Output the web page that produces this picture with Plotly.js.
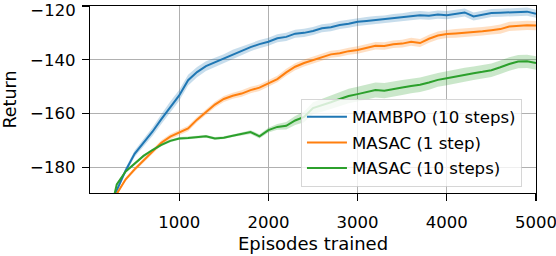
<!DOCTYPE html>
<html>
<head>
<meta charset="utf-8">
<script src="https://cdn.plot.ly/plotly-3.0.1.min.js"></script>
<style>html,body{margin:0;padding:0;background:#fff;}#chart{width:556px;height:256px;}</style>
</head>
<body>
<div id="chart"></div>
<script>
const episodes = [250,300,400,500,600,700,800,900,1000,1100,1200,1300,1400,1500,1600,1700,1800,1900,2000,2100,2200,2300,2400,2500,2600,2700,2800,2900,3000,3100,3200,3300,3400,3500,3600,3700,3800,3900,4000,4100,4200,4300,4400,4500,4600,4700,4800,4900,5000];

const mambpoMean = [-192.3,-188.6,-181.2,-175.0,-170.9,-166.8,-162.1,-157.5,-153.3,-147.6,-144.6,-142.4,-141.0,-139.6,-137.9,-136.5,-135.3,-134.2,-133.3,-132.0,-131.5,-130.3,-130.0,-129.3,-128.3,-127.9,-127.1,-126.6,-125.9,-125.6,-125.2,-125.0,-124.5,-124.2,-123.6,-123.4,-123.6,-123.2,-123.4,-122.8,-122.4,-123.9,-123.2,-122.6,-122.5,-122.4,-122.3,-122.1,-122.9];
const mambpoStd = [0.8,0.8,1.0,1.2,1.4,1.6,1.8,2.0,2.0,2.0,1.9,1.8,1.7,1.6,1.6,1.5,1.5,1.5,1.5,1.5,1.5,1.5,1.5,1.5,1.5,1.5,1.5,1.5,1.5,1.5,1.5,1.5,1.5,1.5,1.5,1.5,1.5,1.5,1.5,1.5,1.5,1.5,1.5,1.5,1.5,1.5,1.5,1.5,1.5];

const masac1Mean = [-192.6,-189.9,-184.5,-180.8,-177.5,-174.3,-170.9,-168.6,-167.2,-165.6,-162.3,-159.5,-156.7,-154.6,-153.4,-152.6,-151.3,-150.4,-148.8,-147.2,-144.7,-142.6,-141.2,-140.2,-139.1,-138.0,-137.6,-136.8,-136.4,-135.6,-134.8,-134.9,-134.2,-134.0,-133.3,-133.8,-132.2,-131.0,-130.4,-130.2,-130.0,-129.8,-129.4,-129.0,-128.6,-127.6,-127.4,-127.2,-127.3];
const masac1Std = [0.6,0.6,0.7,0.8,0.8,0.9,0.9,1.0,1.0,1.0,1.0,1.1,1.1,1.1,1.1,1.2,1.2,1.2,1.2,1.2,1.3,1.3,1.3,1.3,1.3,1.3,1.3,1.3,1.4,1.4,1.4,1.4,1.4,1.4,1.5,1.5,1.5,1.5,1.5,1.6,1.6,1.6,1.6,1.6,1.7,1.7,1.7,1.7,1.7];

const masac10Mean = [-193.5,-186.4,-181.6,-178.6,-175.8,-173.6,-171.7,-170.2,-169.3,-169.1,-168.8,-168.5,-169.3,-169.0,-168.3,-167.5,-166.9,-168.5,-166.2,-165.0,-164.6,-162.6,-161.3,-158.0,-157.0,-155.8,-154.6,-153.5,-152.8,-152.1,-151.3,-151.5,-150.8,-150.3,-149.8,-149.3,-148.5,-147.5,-146.9,-146.2,-145.6,-145.0,-144.5,-143.9,-142.8,-141.6,-140.7,-140.6,-141.2];
const masac10Std = [0.5,0.5,0.5,0.5,0.5,0.5,0.5,0.5,0.5,0.5,0.5,0.5,0.5,0.5,0.5,0.6,0.7,0.8,0.9,1.1,1.4,1.7,2.0,2.2,2.4,2.5,2.6,2.7,2.7,2.8,2.8,2.8,2.8,2.8,2.7,2.7,2.7,2.6,2.6,2.6,2.6,2.5,2.5,2.5,2.5,2.5,2.5,2.5,2.5];

const seriesNames = ['MAMBPO (10 steps)','MASAC (1 step)','MASAC (10 steps)'];
const lineColors = ['#1f77b4','#ff7f0e','#2ca02c'];
const bandColors = ['rgba(31,119,180,0.25)','rgba(255,127,14,0.25)','rgba(44,160,44,0.25)'];
const xTicks = [1000,2000,3000,4000,5000];
const yTicks = [-180,-160,-140];
const yTopTick = [-120];

const means = [mambpoMean, masac1Mean, masac10Mean];
const stds = [mambpoStd, masac1Std, masac10Std];

const traces = [];
for (let i = 0; i < 3; i++) {
  const up = means[i].map((m,j)=>m+stds[i][j]);
  const lo = means[i].map((m,j)=>m-stds[i][j]);
  traces.push({x: episodes, y: up, mode:'lines', line:{width:0, color:lineColors[i]}, showlegend:false, hoverinfo:'skip'});
  traces.push({x: episodes, y: lo, mode:'lines', line:{width:0, color:lineColors[i]}, fill:'tonexty', fillcolor:bandColors[i], showlegend:false, hoverinfo:'skip'});
}
// invisible carrier so the overlaying axis (top tick label) is drawn
traces.push({x: episodes, y: mambpoMean, yaxis:'y2', mode:'lines', line:{width:0, color:'rgba(0,0,0,0)'}, opacity:0, showlegend:false, hoverinfo:'skip'});
for (let i = 0; i < 3; i++) {
  traces.push({x: episodes, y: means[i], mode:'lines', name: seriesNames[i], legendgroup:'g'+i,
    line:{width:2, color:lineColors[i]}});
}

const tickFont = {family:'DejaVu Sans', size:16.5, color:'#000'};
const titleFont = {family:'DejaVu Sans', size:18, color:'#000'};
const legendFont = {family:'DejaVu Sans', size:16.6, color:'#000'};
const yRange = [-189.6,-120];
const layout = {
  width:556, height:256,
  margin:{l:90, r:20, t:6, b:63, pad:0},
  paper_bgcolor:'#fff', plot_bgcolor:'#fff',
  font: tickFont,
  showlegend:true,
  xaxis:{
    range:[0,5000], tickvals:xTicks, ticktext:xTicks.map(String),
    showline:true, mirror:true, linecolor:'#000', linewidth:1.3,
    ticks:'outside', ticklen:7, tickwidth:1.3, tickcolor:'#000',
    showgrid:true, gridcolor:'#b0b0b0', gridwidth:1, zeroline:false,
    ticklabelstandoff:7, ticklabeloverflow:'allow',
    title:{text:'Episodes trained', font:titleFont, standoff:6},
    tickfont:tickFont
  },
  yaxis:{
    range:yRange, tickvals:yTicks,
    showline:true, mirror:true, linecolor:'#000', linewidth:1.3,
    ticks:'outside', ticklen:7, tickwidth:1.3, tickcolor:'#000',
    showgrid:true, gridcolor:'#b0b0b0', gridwidth:1, zeroline:false,
    ticklabelstandoff:3, ticklabeloverflow:'allow',
    title:{text:'Return', font:{family:'DejaVu Sans', size:17.5, color:'#000'}, standoff:12},
    tickfont:tickFont
  },
  yaxis2:{
    overlaying:'y', side:'left', range:yRange, tickvals:yTopTick,
    showline:false, showgrid:false, zeroline:false,
    ticks:'outside', ticklen:7, tickwidth:1.3, tickcolor:'#000',
    ticklabelstandoff:3, ticklabeloverflow:'allow', ticklabelshift:4,
    tickfont:tickFont
  },
  legend:{
    x:0.473, y:0.505, xanchor:'left', yanchor:'top',
    bgcolor:'rgba(255,255,255,0.8)', bordercolor:'rgba(204,204,204,0.8)', borderwidth:1,
    font:legendFont, traceorder:'grouped', tracegroupgap:1, itemwidth:40
  }
};
Plotly.newPlot('chart', traces, layout, {staticPlot:true, displayModeBar:false});
</script>
</body>
</html>
